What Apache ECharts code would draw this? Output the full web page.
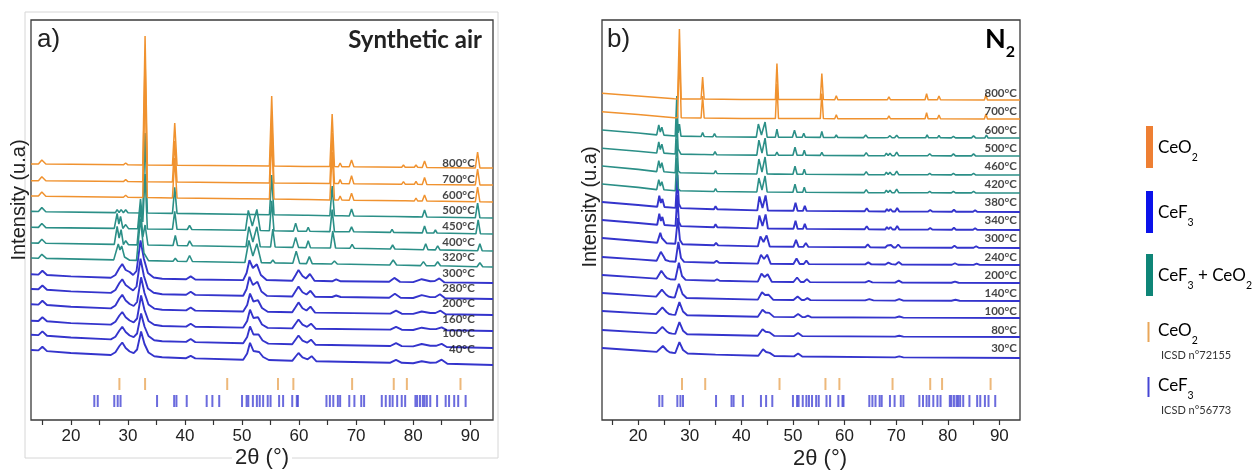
<!DOCTYPE html>
<html><head><meta charset="utf-8">
<script src="https://cdn.jsdelivr.net/npm/echarts@6/dist/echarts.min.js"></script>
<style>html,body{margin:0;padding:0;background:#fff}#c{width:1253px;height:471px}</style>
</head><body><div id="c"></div>
<script>
// ---------- Panel a : synthetic air (profiles: [2theta, intensity above stack offset]) ----------
const A_LABELS = ['800°C','700°C','600°C','500°C','450°C','400°C','320°C','300°C','280°C','200°C','160°C','100°C','40°C'];
const A_PHASE  = ['o','o','o','t','t','t','t','b','b','b','b','b','b'];
const A_OFFSETS = [252,235,218,202,186,169,153,137,121,105,89,72,55];

const a800 = [[13,4],[14.3,3.9],[14.9,8],[15.6,3.9],[29.2,3.2],[29.6,5],[30,3.2],[32.6,3],[33,132],[33.4,3],[37.8,2.8],[38.2,45],[38.6,2.7],[49.9,2.2],[50.2,4],[50.5,2.2],[54.8,1.9],[55.2,72],[55.6,1.9],[60.9,1.6],[61.2,3.5],[61.5,1.6],[65.4,1.4],[65.8,54],[66.2,1.4],[66.9,1.3],[67.2,5],[67.5,1.3],[68.8,1.2],[69.2,8],[69.6,1.2],[78,0.8],[78.3,3],[78.6,0.8],[80.2,0.7],[80.5,3],[80.8,0.7],[81.6,0.6],[82,7],[82.4,0.6],[90.9,0.1],[91.3,16],[91.7,0.1],[94,0]];
const a700 = [[13,4.3],[14.3,4.2],[14.9,8.3],[15.6,4.2],[29.2,3.4],[29.6,5.3],[30,3.4],[32.6,3.2],[33,128],[33.4,3.2],[37.8,2.9],[38.2,44],[38.6,2.9],[49.9,2.3],[50.2,4.3],[50.5,2.3],[54.8,2],[55.2,70],[55.6,2],[60.9,1.7],[61.2,3.7],[61.5,1.7],[65.4,1.5],[65.8,52],[66.2,1.5],[66.9,1.4],[67.2,5.4],[67.5,1.4],[68.8,1.3],[69.2,9.3],[69.6,1.3],[78,0.8],[78.3,3.3],[78.6,0.8],[80.2,0.7],[80.5,3.7],[80.8,0.7],[81.6,0.6],[82,7.6],[82.4,0.6],[90.9,0.1],[91.3,16],[91.7,0.1],[94,0]];
const a600 = [[13,6],[14.3,5.9],[14.9,9.9],[15.6,5.8],[29.2,4.8],[29.6,6.8],[30,4.8],[32.6,4.5],[33,126],[33.4,4.5],[37.8,4.1],[38.2,44],[38.6,4.1],[49.9,3.2],[50.2,4.7],[50.5,3.2],[54.8,2.9],[55.2,68],[55.6,2.9],[60.9,2.4],[61.2,4.4],[61.5,2.4],[65.4,2.1],[65.8,50],[66.2,2.1],[66.9,2],[67.2,6],[67.5,2],[68.8,1.8],[69.2,8.8],[69.6,1.8],[78,1.2],[78.3,3.2],[78.6,1.2],[80.2,1],[80.5,4],[80.8,1],[81.6,0.9],[82,6.9],[82.4,0.9],[90.9,0.2],[91.3,15],[91.7,0.2],[94,0]];
const a500 = [[13,6.6],[14.3,6.5],[14.9,10.4],[15.6,6.3],[27.8,5.4],[28.1,8.4],[28.45,5.5],[28.8,8.4],[29.2,5.3],[29.6,8.2],[30,5.2],[32.6,5],[33,85],[33.4,5],[37.8,4.6],[38.2,30.6],[38.6,4.6],[54.8,3.2],[55.2,43],[55.6,3.2],[60.9,2.7],[61.2,4.7],[61.5,2.7],[65.4,2.3],[65.8,32],[66.2,2.3],[66.9,2.2],[67.2,4.2],[67.5,2.2],[68.8,2],[69.2,9],[69.6,2],[76.1,1.5],[76.4,3.5],[76.7,1.5],[80.2,1.1],[80.5,3.1],[80.8,1.1],[81.6,1],[82,8],[82.4,1],[90.9,0.2],[91.3,15],[91.7,0.2],[94,0]];
const a450 = [[13,6.7],[14.3,6.6],[14.9,10.5],[15.6,6.4],[27.6,5.6],[28.1,20.5],[28.4,10],[28.7,17.5],[29.1,5.6],[29.6,9.4],[30.1,5.4],[31.7,5.2],[32.2,35],[32.6,12],[33,60],[33.4,5],[37.8,4.7],[38.2,22.7],[38.6,4.7],[40.4,4.5],[40.8,8.5],[41.2,4.5],[50.6,3.7],[51.1,23.6],[51.8,8],[52.6,24.5],[53.2,3.5],[54.8,3.3],[55.2,33.3],[55.6,3.3],[59,2.9],[59.4,10.9],[59.8,2.9],[61.3,2.8],[61.6,6.8],[61.9,2.8],[65.4,2.4],[65.8,24.4],[66.2,2.4],[66.9,2.3],[67.2,4.3],[67.5,2.3],[68.8,2.2],[69.2,7.2],[69.6,2.2],[76,1.6],[76.3,4.6],[76.6,1.6],[81.6,1.1],[82,8.1],[82.4,1.1],[83.6,1],[83.9,4],[84.2,1],[91,0.2],[91.4,14.2],[91.8,0.2],[94,0]];
const a400 = [[13,8],[14.3,7.9],[14.9,11.8],[15.6,7.7],[27.6,6.6],[28.1,24.5],[28.45,13],[28.8,21.4],[29.2,6.4],[29.6,10.3],[30.1,6.3],[31.6,6.1],[32.2,44],[32.6,14],[33,26],[33.5,6],[37.9,5.5],[38.3,15.5],[38.7,5.5],[40.4,5.2],[40.8,10.2],[41.3,5.2],[50.7,4.3],[51.2,24.3],[51.9,9],[52.6,24.2],[53.2,4.2],[55,4],[55.4,22],[55.8,4],[58.9,3.6],[59.4,13.6],[59.9,3.6],[61.2,3.3],[61.6,10.3],[62,3.3],[65.5,3],[65.9,20],[66.4,3],[68.9,2.7],[69.3,6.7],[69.7,2.7],[76,2],[76.4,6],[76.8,2],[81.8,1.3],[82.2,7.3],[82.6,1.3],[83.9,1.1],[84.3,5.1],[84.7,1.1],[91.3,0.2],[91.7,7.2],[92.1,0.2],[94,0]];
const a320 = [[13,9],[14.3,8.8],[14.9,12.7],[15.7,8.6],[27.5,7.1],[28.3,23],[28.6,17],[28.9,21],[29.4,10],[29.7,11.5],[30.3,6.8],[31.5,6.6],[32.2,48.5],[32.8,14],[33.6,6.4],[37.9,5.8],[38.3,8.8],[38.7,5.8],[40.3,5.5],[40.8,11.5],[41.3,5.5],[50.5,4.5],[51.2,26.5],[51.9,11],[52.6,23.3],[53.4,4.3],[55,4.1],[55.4,7.1],[55.8,4.1],[58.9,3.7],[59.5,15.7],[60.1,3.6],[61.3,3.4],[61.8,10.4],[62.3,3.4],[65.7,3],[66.2,6],[66.7,3],[75.9,2],[76.5,7],[77.1,2],[81.3,1.4],[81.8,5.4],[82.3,1.4],[83.8,1.2],[84.3,5.2],[84.8,1.2],[91.2,0.2],[91.7,4.2],[92.2,0.2],[94,0]];
const a300 = [[13,8.7],[14.3,8.4],[15,12.2],[15.8,8],[20,6.6],[27,5.3],[27.8,8],[28.5,15],[29,19],[29.6,13],[30.3,11],[30.9,8],[31.5,12],[32.2,42.6],[32.8,24],[33.5,10],[34.5,5.5],[36,4.2],[40.2,3.7],[41,6.6],[41.8,3.5],[50.2,2.9],[50.8,10],[51.3,22.8],[51.9,15],[52.6,18.7],[53.3,8],[54.3,3],[58.8,2.2],[59.4,8],[59.9,13.1],[60.6,7],[61.2,4.5],[61.9,9],[62.7,2.2],[65.8,1.7],[66.5,3.7],[67.3,1.7],[75.8,1.2],[76.7,5.1],[77.7,1.1],[80,0.9],[81.5,3.8],[83,1.8],[83.8,2],[84.6,4.6],[85.5,0.6],[94,0]];
const a280 = [[13,10],[14.3,9.7],[15,13.5],[15.8,9.3],[20,7.6],[27,6.1],[27.8,9],[28.5,16],[29,19.8],[29.6,14],[30.3,11],[30.9,8.5],[31.5,12.5],[32.2,40.3],[32.8,23],[33.5,10.5],[34.5,6.2],[36,4.8],[40.2,4.3],[41,7.2],[41.8,4.1],[50.2,3.3],[50.8,10],[51.3,22.2],[51.9,14],[52.7,17.2],[53.4,7.5],[54.4,3.1],[58.8,2.5],[59.4,8],[59.9,12.4],[60.6,6.8],[61.3,4.5],[62,8.2],[62.8,2.3],[65.8,2],[66.5,3.5],[67.3,2],[75.8,1.3],[76.8,5.2],[77.8,1.2],[80,1],[81.5,3.9],[83,1.9],[83.9,2],[84.7,4.7],[85.6,0.7],[94,0]];
const a200 = [[13,10.7],[14.3,10.4],[15,14.2],[15.8,10],[20,8.2],[27,6.6],[27.8,9.5],[28.5,16.5],[29,20.2],[29.6,14.5],[30.3,11],[31,9],[31.6,13],[32.3,37.7],[32.9,22],[33.6,10.5],[34.6,6.4],[36,5.2],[40.2,4.6],[41,7.5],[41.8,4.4],[50.2,3.5],[50.9,10],[51.4,21.4],[52,13.5],[52.8,14.8],[53.5,7],[54.5,3.2],[58.8,2.7],[59.4,8],[59.9,12.6],[60.6,6.8],[61.3,4.5],[62,8.4],[62.8,2.4],[76,1.4],[77,4.3],[78,1.3],[80,1.1],[81.5,3.5],[83,2],[83.9,2],[84.8,4.3],[85.7,0.8],[94,0]];
const a160 = [[13,10.3],[14.3,10],[15,13.8],[15.8,9.7],[20,7.9],[27,6.4],[27.8,9.2],[28.5,15.5],[29,19],[29.6,13.8],[30.3,10.5],[31,8.7],[31.6,12.5],[32.3,35.5],[32.9,21],[33.6,10],[34.6,6.2],[36,5],[40.2,4.4],[41,7.3],[41.8,4.3],[50.2,3.4],[50.9,10],[51.4,21.3],[52,13],[52.8,13.7],[53.5,6.5],[54.5,3.1],[58.8,2.6],[59.4,7.5],[59.9,11.5],[60.6,6.3],[61.4,4.2],[62.1,7.3],[62.9,2.3],[76,1.4],[77,4.2],[78,1.3],[80,1],[81.5,3.3],[83,1.9],[84,1.9],[85,3.7],[85.9,0.8],[94,0]];
const a100 = [[13,13.3],[14.3,12.9],[15,16.6],[15.8,12.3],[20,10.5],[27,8.6],[27.8,11.3],[28.5,17.5],[29,21.2],[29.6,16],[30.3,12.5],[31,10.8],[31.6,14.5],[32.3,34.6],[32.9,21.5],[33.6,12],[34.6,7.8],[36,6.8],[40.2,6.1],[41,9],[41.8,5.9],[50.2,4.7],[50.9,11],[51.4,21.6],[52,13.5],[52.9,13.6],[53.6,7.5],[54.6,4.4],[58.8,3.7],[59.4,8.5],[59.9,12.5],[60.6,7.3],[61.4,5.3],[62.1,8.3],[62.9,3.2],[76,2],[77,4.9],[78,1.9],[80,1.6],[81.5,4],[83,2.2],[84,2.2],[85,4.1],[85.9,1],[94,0]];
const a40 = [[13,15],[14.3,14.6],[15,18.2],[15.8,13.9],[20,12],[27,10],[27.8,12.8],[28.5,19],[29,22.5],[29.6,17],[30.3,13.5],[31,11.8],[31.6,15.5],[32.3,33.6],[32.9,21],[33.6,12.5],[34.6,8.7],[36,7.8],[40.2,6.8],[41,9.2],[41.8,6.6],[50.2,5.3],[50.9,11.5],[51.4,22.2],[52,14],[53,13],[53.7,8],[54.7,5],[58.8,4.2],[59.4,8.5],[59.9,12],[60.6,7.6],[61.5,5.7],[62.2,8.8],[63,3.8],[76,2.3],[77,5.2],[78,2.2],[80,1.8],[81.5,3.7],[83,2.3],[84,2.4],[85,5.3],[86,1.2],[94,0]];
const A_TRACES = [a800,a700,a600,a500,a450,a400,a320,a300,a280,a200,a160,a100,a40];

// ---------- Panel b : N2 ----------
const B_LABELS = ['800°C','700°C','600°C','500°C','460°C','420°C','380°C','340°C','300°C','240°C','200°C','140°C','100°C','80°C','30°C'];
const B_PHASE  = ['o','o','t','t','t','t','b','b','b','b','b','b','b','b','b'];
const B_OFFSETS = [320,301,282,264,245,227,208,190,172,155,137,119,102,83,62];

const b800 = [[13,6.7],[20,4],[27,1.2],[27.65,1.1],[28,71],[28.35,1.1],[32.2,0.9],[32.5,23],[32.8,0.9],[40,0.5],[46.6,0.45],[46.9,36.5],[47.2,0.45],[55.3,0.4],[55.6,26.4],[55.9,0.4],[58.1,0.35],[58.4,4.3],[58.7,0.35],[68.3,0.25],[68.6,3.2],[68.9,0.25],[75.6,0.2],[75.9,6.2],[76.2,0.2],[78,0.15],[78.3,4.1],[78.6,0.15],[87.1,0.05],[87.4,5],[87.7,0.05],[94,0]];
const b700 = [[13,7.3],[20,4.4],[27,1.3],[27.65,1.2],[28,69],[28.35,1.2],[32.2,1],[32.5,23],[32.8,1],[40,0.5],[46.6,0.5],[46.9,35],[47.2,0.5],[55.3,0.4],[55.6,25.4],[55.9,0.4],[58.1,0.35],[58.4,4.3],[58.7,0.35],[68.3,0.25],[68.6,3.2],[68.9,0.25],[75.6,0.2],[75.9,6.2],[76.2,0.2],[78,0.15],[78.3,4.1],[78.6,0.15],[87.1,0.05],[87.4,5],[87.7,0.05],[94,0]];
const b600 = [[13,8],[20,5],[23.6,3.1],[24,13],[24.3,6],[24.6,10.8],[25,2.9],[27.2,2],[27.5,42],[27.75,5],[28,14],[28.3,1.9],[32.2,1.5],[32.5,5.5],[32.8,1.5],[34.5,1.3],[34.8,4.3],[35.1,1.3],[42.9,0.9],[43.3,14],[43.9,3],[44.6,16],[45,0.9],[46.6,0.8],[46.9,8.8],[47.2,0.8],[49.9,0.7],[50.3,7.7],[50.7,0.7],[51.8,0.7],[52.1,4.7],[52.4,0.7],[55.3,0.6],[55.6,6.6],[55.9,0.6],[58.1,0.5],[58.4,3],[58.7,0.5],[63.7,0.4],[64.1,2.9],[64.5,0.4],[67.7,0.3],[68,2.3],[68.4,0.5],[68.8,2.3],[69.2,0.3],[69.7,0.3],[70.1,2.8],[70.5,0.3],[75.7,0.2],[76,3.2],[76.3,0.2],[78,0.2],[78.3,2.7],[78.6,0.2],[80.7,0.15],[81.1,1.6],[81.5,0.15],[84.6,0.1],[85,2.1],[85.4,0.1],[87.2,0.05],[87.5,3],[87.8,0.05],[94,0]];
const b500 = [[13,7.7],[20,4.8],[23.6,3],[24,14],[24.3,6.5],[24.6,11.9],[25,2.9],[27.2,2],[27.5,38],[27.75,7],[28,5.9],[28.3,1.9],[32.2,1.5],[32.5,3.5],[32.8,1.5],[34.6,1.3],[34.9,4.3],[35.2,1.3],[43,0.9],[43.4,15.9],[44,3],[44.6,17.9],[45,0.9],[46.6,0.8],[46.9,3.8],[47.2,0.8],[50,0.7],[50.4,8.7],[50.8,0.7],[51.9,0.7],[52.2,5.7],[52.5,0.7],[55.3,0.6],[55.6,3.6],[55.9,0.6],[63.8,0.4],[64.2,3.4],[64.6,0.4],[67.8,0.3],[68.1,2.8],[68.45,0.5],[68.8,2.8],[69.2,0.3],[69.7,0.3],[70.1,3.8],[70.5,0.3],[76.1,0.2],[76.5,2.2],[76.9,0.2],[80.7,0.15],[81.1,2.1],[81.5,0.15],[84.6,0.1],[85,2.1],[85.4,0.1],[94,0]];
const b460 = [[13,9],[20,5.6],[23.6,3.4],[24,14.4],[24.3,7],[24.6,12.3],[25,3.2],[27.2,2.3],[27.5,36],[27.8,4],[28.2,2.2],[34.7,1.5],[35,4.5],[35.3,1.5],[43,1],[43.4,16],[44,3],[44.6,18],[45,1],[46.6,0.9],[46.9,2.9],[47.2,0.9],[50,0.8],[50.4,8.8],[50.8,0.8],[51.9,0.8],[52.2,5.8],[52.5,0.8],[63.8,0.4],[64.2,3.4],[64.6,0.4],[67.8,0.3],[68.1,2.8],[68.45,0.5],[68.8,2.8],[69.2,0.3],[69.7,0.3],[70.1,3.8],[70.5,0.3],[76.1,0.2],[76.5,1.7],[76.9,0.2],[80.7,0.15],[81.1,1.7],[81.5,0.15],[84.6,0.1],[85,1.6],[85.4,0.1],[94,0]];
const b420 = [[13,9],[20,5.6],[23.6,3.4],[24,13.4],[24.3,7],[24.6,11.3],[25,3.2],[27.2,2.3],[27.5,35],[27.8,4],[28.2,2.2],[34.7,1.5],[35,4.5],[35.3,1.5],[43,1],[43.4,15],[44,3],[44.6,17],[45,1],[50,0.8],[50.4,8.8],[50.8,0.8],[51.9,0.8],[52.2,5.8],[52.5,0.8],[63.8,0.4],[64.2,3.4],[64.6,0.4],[67.8,0.3],[68.1,2.8],[68.45,0.5],[68.8,2.8],[69.2,0.3],[69.7,0.3],[70.1,3.8],[70.5,0.3],[76.1,0.2],[76.5,1.7],[76.9,0.2],[80.7,0.15],[81.1,1.7],[81.5,0.15],[84.6,0.1],[85,1.6],[85.4,0.1],[94,0]];
const b380 = [[13,10],[20,7],[23.7,5.3],[24.1,16.2],[24.4,9],[24.7,13.1],[25.1,5],[27.25,4.1],[27.6,37],[27.9,8],[28.3,3.9],[34.7,2.7],[35,5.7],[35.35,2.7],[43.1,1.6],[43.5,15.6],[44.1,4],[44.7,16.6],[45.15,1.5],[50.1,1.2],[50.5,9.2],[50.9,1.2],[51.95,1.1],[52.3,6.1],[52.65,1.1],[63.9,0.7],[64.3,3.7],[64.7,0.7],[67.9,0.55],[68.2,3],[68.55,0.8],[68.9,3],[69.3,0.5],[69.8,0.5],[70.2,4],[70.6,0.5],[76.2,0.4],[76.6,1.9],[77,0.4],[80.8,0.3],[81.2,2.3],[81.6,0.3],[84.9,0.2],[85.3,1.7],[85.7,0.2],[94,0]];
const b340 = [[13,10],[20,7],[23.7,5.3],[24.1,16.2],[24.4,9],[24.7,13.1],[25.1,5],[27.25,4.1],[27.6,35],[27.9,8],[28.3,3.9],[34.7,2.7],[35,5.7],[35.35,2.7],[43.1,1.6],[43.5,14.6],[44.1,4],[44.7,15.6],[45.15,1.5],[50.1,1.2],[50.5,9.2],[50.9,1.2],[51.95,1.1],[52.3,6.1],[52.65,1.1],[63.9,0.7],[64.3,3.7],[64.7,0.7],[67.9,0.55],[68.2,3],[68.55,0.8],[68.9,3],[69.3,0.5],[69.8,0.5],[70.2,4],[70.6,0.5],[76.2,0.4],[76.6,1.9],[77,0.4],[80.8,0.3],[81.2,2.3],[81.6,0.3],[84.9,0.2],[85.3,1.7],[85.7,0.2],[94,0]];
const b300 = [[13,10],[20,7],[23.7,5.3],[24.3,15.1],[24.6,10],[24.9,11.8],[25.5,4.8],[27.2,4.2],[27.7,30],[28.1,8],[28.6,3.8],[34.7,2.7],[35.1,5.2],[35.5,2.6],[43.2,1.6],[43.7,11.6],[44.3,6],[44.9,12.5],[45.5,1.5],[50.1,1.2],[50.6,8.2],[51.1,1.2],[52,1.1],[52.5,5.1],[53,1.1],[64,0.7],[64.5,3.7],[65,0.7],[67.9,0.55],[68.3,2.5],[68.65,1],[69,3],[69.5,0.5],[69.9,0.5],[70.4,3.5],[70.9,0.5],[80.8,0.3],[81.3,2.3],[81.8,0.3],[85,0.2],[85.5,1.7],[86,0.2],[94,0]];
const b240 = [[13,8],[20,5.6],[23.6,4.3],[24.4,13.2],[25,8],[25.3,5],[26,3.8],[27.25,3.3],[27.8,23.2],[28.3,7],[28.9,3.1],[34.7,2.2],[35.2,4.2],[35.7,2.2],[43.2,1.4],[43.8,10.3],[44.4,6],[45,10.3],[45.7,1.2],[50.1,1],[50.7,6.5],[51.3,1],[52.1,0.95],[52.6,4.4],[53.1,0.9],[64,0.6],[64.6,2.6],[65.2,0.6],[67.9,0.45],[68.5,2.4],[69.1,0.9],[69.9,0.4],[70.5,2.9],[71.1,0.4],[80.8,0.25],[81.4,1.75],[82,0.25],[85,0.15],[85.6,1.35],[86.2,0.15],[94,0]];
const b200 = [[13,8],[20,5.6],[23.6,4.4],[24.5,12.2],[25.2,7],[25.6,4.8],[26.2,3.8],[27.2,3.4],[27.9,20.2],[28.5,7],[29.2,3.1],[34.8,2.2],[35.3,3.7],[35.8,2.2],[43.2,1.4],[43.9,9.3],[44.5,6],[45.1,8.8],[45.9,1.2],[50.1,1],[50.8,5.5],[51.5,1],[52.1,0.95],[52.7,3.9],[53.3,0.9],[64,0.6],[64.7,2.1],[65.4,0.6],[69.8,0.4],[70.5,2.4],[71.2,0.4],[80.7,0.25],[81.4,1.45],[82.1,0.25],[94,0]];
const b140 = [[13,8],[20,5.6],[23.5,4.4],[24.6,11.3],[25.4,6.5],[25.9,4.5],[26.5,3.8],[27.1,3.5],[27.9,17.2],[28.6,7],[29.4,3],[43.2,1.4],[44,8.8],[44.6,6],[45.3,6.2],[46.2,1.2],[50.1,1],[50.9,4.5],[51.7,1],[52.2,0.95],[52.8,2.9],[53.4,0.9],[64,0.6],[64.8,1.8],[65.6,0.6],[69.8,0.4],[70.6,1.9],[71.4,0.4],[80.7,0.25],[81.5,1.25],[82.3,0.25],[94,0]];
const b100 = [[13,7],[20,4.9],[23.5,3.9],[24.7,10.6],[25.5,6],[26,4],[26.6,3.4],[27.2,3.1],[28,15.9],[28.7,6.5],[29.5,2.7],[43.2,1.2],[44.1,8.2],[44.7,5.5],[45.4,5.1],[46.3,1.1],[50.2,0.9],[51,3.9],[51.8,0.9],[52.3,0.85],[52.9,2.3],[53.5,0.8],[69.8,0.35],[70.6,1.5],[71.4,0.35],[94,0]];
const b80 = [[13,7],[20,4.9],[23.5,3.9],[24.7,10.1],[25.5,5.8],[26,4],[26.6,3.4],[27.2,3.1],[28,14.9],[28.7,6.3],[29.5,2.7],[43.2,1.2],[44.1,7.7],[44.7,5.2],[45.5,4.6],[46.4,1.1],[50.2,0.9],[51,3.9],[51.8,0.9],[69.8,0.35],[70.6,1.3],[71.4,0.35],[94,0]];
const b30 = [[13,10],[20,7.5],[23.6,6.1],[24.8,12],[25.6,7.5],[26.1,5.7],[26.7,5.2],[27.2,5],[28,15.8],[28.7,8],[29.6,4.5],[35,3.4],[43.3,2.3],[44.2,8.7],[44.8,6],[45.5,5.1],[46.4,2],[50.2,1.6],[51,4.5],[51.8,1.5],[69.8,0.65],[70.6,1.6],[71.4,0.6],[94,0]];
const B_TRACES = [b800,b700,b600,b500,b460,b420,b380,b340,b300,b240,b200,b140,b100,b80,b30];

// ---------- Reference patterns (ICSD) ----------
const CEO2_REF = [28.5,33.0,47.4,56.3,59.0,69.3,76.6,78.9,88.3];
const CEF3_REF = [24.1,24.7,27.6,28.2,28.7,35.1,38.1,38.5,40.3,43.8,44.8,46.0,50.0,50.8,51.1,51.9,52.6,53.1,53.7,54.5,55.0,56.5,57.2,58.8,59.6,59.8,64.8,65.4,66.0,66.8,67.2,68.8,69.7,70.9,71.4,74.5,75.2,75.9,76.4,77.2,78.0,78.6,80.4,80.7,81.2,81.7,82.0,82.4,83.0,84.2,85.7,86.3,87.2,87.9,89.2];

const X_TICKS = [15,20,25,30,35,40,45,50,55,60,65,70,75,80,85,90];
const X_LABELS = [20,30,40,50,60,70,80,90];
const LEGEND_NAMES = ['CeO2','CeF3','CeF3 + CeO2'];
const REF_NAMES = ['CeO2','CeF3'];
const REF_CODES = ['ICSD n°72155','ICSD n°56773'];

// ---------- styling ----------
const COL = {o:'#F0922F', t:'#2B8F87', b:'#3434CC'};
const WID = {o:1.5, t:1.6, b:1.9};
const LEG_COL = ['#EE7F33','#0B12EA','#0E8577'];
const REF_COL = ['#E9A659','#4646D4'];

function chem(s){ return s.replace(/([^0-9]+)([0-9])/g,'{t|$1}{s|$2}'); }

const chart = echarts.init(document.getElementById('c'), null, {renderer:'canvas'});

function xAxisCfg(gi){
  return {type:'value', gridIndex:gi, min:13, max:94,
    axisLine:{show:false}, splitLine:{show:false},
    axisTick:{show:true, inside:false, length:5, customValues:X_TICKS, lineStyle:{color:'#333', width:1.2}},
    axisLabel:{show:true, customValues:X_LABELS, margin:8, fontSize:17, color:'#222', fontFamily:'Liberation Sans'}};
}
function yAxisCfg(gi){
  return {type:'value', gridIndex:gi, min:0, max:400, show:false};
}

const series = [];
function addPanel(traces, offsets, phases, labels, gi, labelX, labelLift){
  for (let i = traces.length-1; i >= 0; i--){
    series.push({type:'line', xAxisIndex:gi, yAxisIndex:gi, silent:true, symbol:'none', showSymbol:false,
      data: traces[i].map(p => [p[0], p[1] + offsets[i]]),
      lineStyle:{color:COL[phases[i]], width:WID[phases[i]]}, z:2});
  }
  series.push({type:'scatter', xAxisIndex:gi, yAxisIndex:gi, silent:true, symbolSize:0,
    data: labels.map((t,i) => ({name:t, value:[labelX, offsets[i] + traces[i][0][1] + labelLift]})),
    label:{show:true, position:'left', distance:0, formatter:p=>p.name, fontSize:11.5, fontWeight:'bold', color:'#151515', fontFamily:'Lato'}, z:5});
  series.push({type:'scatter', xAxisIndex:gi, yAxisIndex:gi, silent:true, symbol:'rect', symbolSize:[2,12],
    itemStyle:{color:REF_COL[0]}, data: CEO2_REF.map(v => [v, 36]), z:3});
  series.push({type:'scatter', xAxisIndex:gi, yAxisIndex:gi, silent:true, symbol:'rect', symbolSize:[2,12],
    itemStyle:{color:REF_COL[1]}, data: CEF3_REF.map(v => [v, 19]), z:3});
}
addPanel(A_TRACES, A_OFFSETS, A_PHASE, A_LABELS, 0, 90.8, 1);
addPanel(B_TRACES, B_OFFSETS, B_PHASE, B_LABELS, 1, 93.4, 0);

const rich = {
  t:{fontSize:17, fontFamily:'Lato', color:'#222', lineHeight:24, verticalAlign:'top'},
  s:{fontSize:10.5, fontFamily:'Lato', color:'#222', lineHeight:24, verticalAlign:'bottom'}
};
const graphics = [
  {type:'rect', shape:{x:25, y:12, width:473, height:446}, style:{fill:'none', stroke:'#d6d6d6', lineWidth:1}, z:0, silent:true},
  {type:'text', x:37, y:40, style:{text:'a)', fontSize:26, fontFamily:'Liberation Sans', fill:'#222', verticalAlign:'middle'}},
  {type:'text', x:482, y:40, style:{text:'Synthetic air', fontSize:24, fontWeight:'bold', fontFamily:'Lato', fill:'#222', align:'right', verticalAlign:'middle'}},
  {type:'text', x:607, y:40, style:{text:'b)', fontSize:26, fontFamily:'Liberation Sans', fill:'#222', verticalAlign:'middle'}},
  {type:'text', x:1015, y:43, style:{text:'{n|N}{m|2}', align:'right', verticalAlign:'middle',
    rich:{n:{fontSize:27, fontWeight:'bold', fontFamily:'Lato', color:'#222', lineHeight:34, verticalAlign:'top'},
          m:{fontSize:16, fontWeight:'bold', fontFamily:'Lato', color:'#222', lineHeight:34, verticalAlign:'bottom'}}}},
  {type:'text', x:19, y:200, rotation:Math.PI/2, style:{text:'Intensity (u.a)', fontSize:20, fontFamily:'Liberation Sans', fill:'#222', align:'center', verticalAlign:'middle'}},
  {type:'text', x:590, y:207, rotation:Math.PI/2, style:{text:'Intensity (u.a)', fontSize:20, fontFamily:'Liberation Sans', fill:'#222', align:'center', verticalAlign:'middle'}},
  {type:'text', x:262, y:458, style:{text:'2θ (°)', fontSize:22, fontFamily:'Liberation Sans', fill:'#222', align:'center', verticalAlign:'middle', backgroundColor:'#fff', padding:[0,3]}},
  {type:'text', x:820, y:459, style:{text:'2θ (°)', fontSize:22, fontFamily:'Liberation Sans', fill:'#222', align:'center', verticalAlign:'middle'}}
];
// phase legend (thick bars)
const LEG_Y = [126, 191, 254];
LEGEND_NAMES.forEach((n,i) => {
  graphics.push({type:'rect', shape:{x:1146, y:LEG_Y[i], width:7, height:42}, style:{fill:LEG_COL[i]}});
  graphics.push({type:'text', x:1158, y:LEG_Y[i]+25, style:{text:chem(n), rich:rich, verticalAlign:'middle'}});
});
// reference legend (thin ticks)
const REF_Y = [322, 377];
REF_NAMES.forEach((n,i) => {
  graphics.push({type:'rect', shape:{x:1147.5, y:REF_Y[i], width:2, height:20}, style:{fill:REF_COL[i]}});
  graphics.push({type:'text', x:1158, y:REF_Y[i]+12, style:{text:chem(n), rich:rich, verticalAlign:'middle'}});
  graphics.push({type:'text', x:1161, y:REF_Y[i]+33, style:{text:REF_CODES[i], fontSize:11, fontFamily:'Lato', fill:'#333', verticalAlign:'middle'}});
});

chart.setOption({
  animation:false,
  backgroundColor:'#fff',
  grid:[
    {left:31, top:20, width:462, height:400, show:true, borderColor:'#3a3a3a', borderWidth:1.3, backgroundColor:'transparent'},
    {left:602, top:20, width:418, height:400, show:true, borderColor:'#3a3a3a', borderWidth:1.3, backgroundColor:'transparent'}
  ],
  xAxis:[xAxisCfg(0), xAxisCfg(1)],
  yAxis:[yAxisCfg(0), yAxisCfg(1)],
  series:series,
  graphic:graphics
});
</script>
</body></html>
